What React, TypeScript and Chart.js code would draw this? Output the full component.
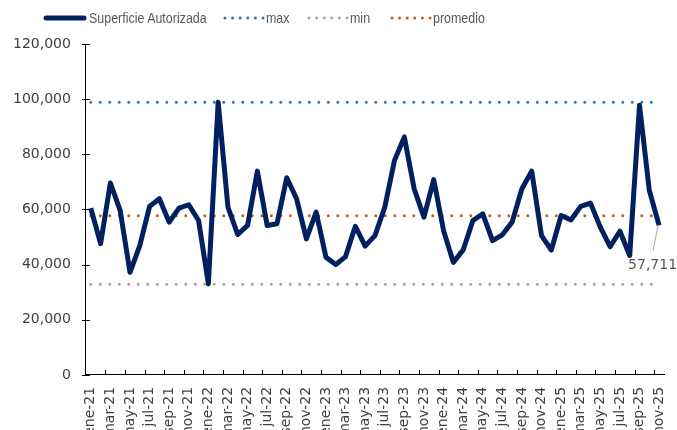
import React, { useEffect, useRef } from "react";
import { Chart, registerables } from "chart.js";

Chart.register(...registerables);

const months = ["ene", "feb", "mar", "abr", "may", "jun", "jul", "ago", "sep", "oct", "nov", "dic"];
const years = ["21", "22", "23", "24", "25"];
const categories: string[] = [];
years.forEach((yy, yi) => {
  months.forEach((m, mi) => {
    if (yi === 4 && mi > 10) return;
    categories.push(`${m}-${yy}`);
  });
});

const superficie = [
  60500, 47600, 69600, 59600, 37200, 46900, 61100, 63900, 55400, 60500, 61700, 56000,
  33000, 98900, 60800, 50900, 54200, 73900, 54200, 54800, 71500, 63900, 49300, 59000,
  42700, 40000, 42900, 53900, 46700, 50500, 60800, 77800, 86300, 67500, 57200, 70800,
  52400, 40800, 45300, 56000, 58400, 48700, 50800, 55400, 67500, 73900, 50500, 45300,
  57800, 56200, 61100, 62300, 53600, 46500, 52100, 43300, 97800, 66900, 54200,
];
const maxValue = 98900;
const minValue = 32900;
const promedioValue = 57711;
const yTicks = [0, 20000, 40000, 60000, 80000, 100000, 120000];

const seriesNames = ["Superficie Autorizada", "max", "min", "promedio"];
const seriesColors = ["#002060", "#2E75B6", "#A6A6A6", "#C55A11"];

const maxSeries = categories.map(() => maxValue);
const minSeries = categories.map(() => minValue);
const promedioSeries = categories.map(() => promedioValue);

const decorPlugin = {
  id: "decor",
  afterDraw(chart: any) {
    const { ctx, chartArea, scales } = chart;
    const xs = scales.x;
    const ys = scales.y;
    ctx.save();
    ctx.strokeStyle = "#000";
    ctx.lineWidth = 1;
    ctx.beginPath();
    yTicks.forEach((v) => {
      const y = Math.round(ys.getPixelForValue(v)) + 0.5;
      ctx.moveTo(chartArea.left - 4, y);
      ctx.lineTo(chartArea.left + 4, y);
    });
    for (let i = 2; i < categories.length; i += 2) {
      const x = Math.round((xs.getPixelForValue(i - 1) + xs.getPixelForValue(i)) / 2) + 0.5;
      ctx.moveTo(x, chartArea.bottom);
      ctx.lineTo(x, chartArea.bottom - 5);
    }
    ctx.stroke();

    const meta = chart.getDatasetMeta(3);
    const pt = meta.data[meta.data.length - 1];
    if (pt) {
      ctx.strokeStyle = "#A6A6A6";
      ctx.beginPath();
      ctx.moveTo(pt.x - 1, pt.y + 9);
      ctx.lineTo(pt.x - 6, pt.y + 35);
      ctx.stroke();
      ctx.fillStyle = "#595959";
      ctx.font = "14px 'DejaVu Sans'";
      ctx.textAlign = "left";
      ctx.textBaseline = "middle";
      ctx.fillText(promedioValue.toLocaleString("en-US"), pt.x - 31, pt.y + 50);
    }
    ctx.restore();
  },
};

const legendPos = [
  { sx: 45, tx: 89 },
  { sx: 224, tx: 266 },
  { sx: 308, tx: 350 },
  { sx: 391, tx: 433 },
];

function Legend() {
  return (
    <>
      {seriesNames.map((name, i) => (
        <React.Fragment key={name}>
          <svg
            width={44}
            height={10}
            style={{ position: "absolute", left: legendPos[i].sx - 2, top: 13 }}
          >
            {i === 0 ? (
              <line x1={3} y1={5} x2={41} y2={5} stroke={seriesColors[i]} strokeWidth={5} strokeLinecap="round" />
            ) : (
              <line
                x1={3}
                y1={5}
                x2={42}
                y2={5}
                stroke={seriesColors[i]}
                strokeWidth={3}
                strokeDasharray="0 7.6"
                strokeLinecap="round"
              />
            )}
          </svg>
          <span
            style={{
              position: "absolute",
              left: legendPos[i].tx,
              top: 9,
              fontFamily: "'Liberation Sans', Arial, sans-serif",
              fontSize: 15,
              lineHeight: "18px",
              color: "#595959",
              whiteSpace: "nowrap",
              transform: "scaleX(0.83)",
              transformOrigin: "0 0",
            }}
          >
            {name}
          </span>
        </React.Fragment>
      ))}
    </>
  );
}

export default function App() {
  const ref = useRef<HTMLCanvasElement>(null);
  useEffect(() => {
    if (!ref.current) return;
    const dotted = (color: string) => ({
      borderColor: color,
      backgroundColor: color,
      borderWidth: 3,
      borderDash: [0, 9.5],
      borderCapStyle: "round" as const,
      pointRadius: 0,
      fill: false,
      tension: 0,
    });
    const chart = new Chart(ref.current, {
      type: "line",
      data: {
        labels: categories,
        datasets: [
          {
            label: seriesNames[0],
            data: superficie,
            borderColor: seriesColors[0],
            backgroundColor: seriesColors[0],
            borderWidth: 5,
            borderJoinStyle: "round",
            borderCapStyle: "butt",
            pointRadius: 0,
            tension: 0,
          },
          { label: seriesNames[1], data: maxSeries, ...dotted(seriesColors[1]) },
          { label: seriesNames[2], data: minSeries, ...dotted(seriesColors[2]) },
          { label: seriesNames[3], data: promedioSeries, ...dotted(seriesColors[3]) },
        ],
      },
      options: {
        animation: false,
        responsive: false,
        maintainAspectRatio: false,
        layout: { padding: { left: -2, right: 13, top: 44, bottom: 0 } },
        plugins: {
          tooltip: { enabled: false },
          legend: { display: false },
        },
        scales: {
          x: {
            offset: true,
            grid: { display: false, drawTicks: true, tickLength: 12, offset: true },
            border: { display: true, color: "#000", width: 1 },
            ticks: {
              autoSkip: false,
              minRotation: 90,
              maxRotation: 90,
              padding: 0,
              color: "#404040",
              font: { family: "'DejaVu Sans'", size: 14 },
              callback: (_v: any, i: number) => (i % 2 === 0 ? categories[i] : ""),
            },
          },
          y: {
            min: 0,
            max: 120000,
            grid: { display: false, drawTicks: false },
            border: { display: true, color: "#000", width: 1 },
            ticks: {
              stepSize: 20000,
              padding: 15,
              color: "#404040",
              font: { family: "'DejaVu Sans'", size: 14 },
              callback: (v: any) => Number(v).toLocaleString("en-US"),
            },
          },
        },
      },
      plugins: [decorPlugin],
    });
    return () => chart.destroy();
  }, []);
  return (
    <div style={{ position: "fixed", left: 0, top: 0, width: 677, height: 430, overflow: "hidden", background: "#fff" }}>
      <canvas ref={ref} width={677} height={440} style={{ display: "block", width: 677, height: 440 }} />
      <Legend />
    </div>
  );
}
